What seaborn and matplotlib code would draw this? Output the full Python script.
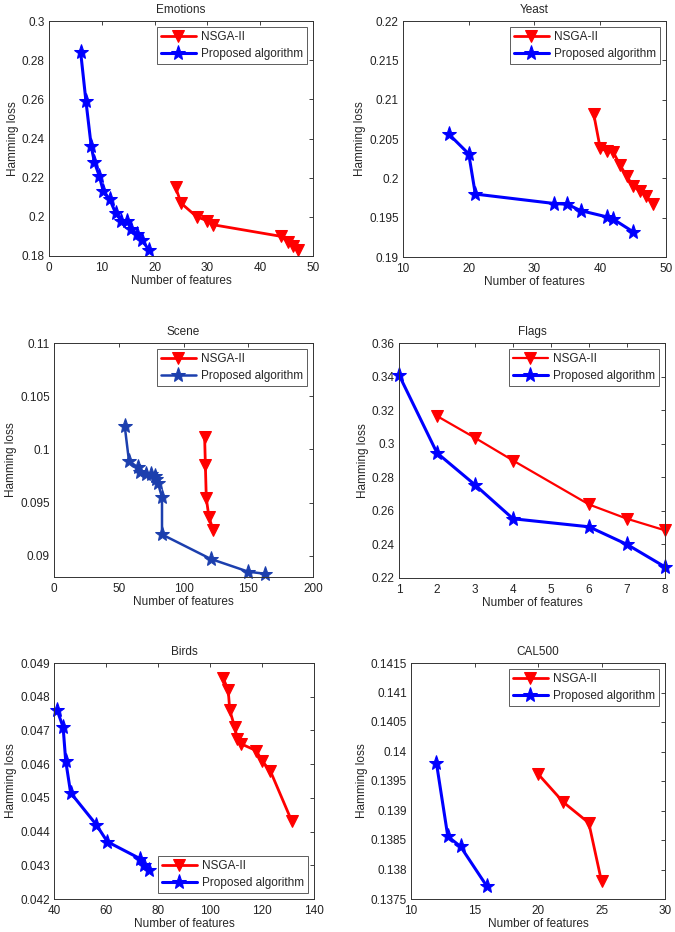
import pandas as pd
import seaborn as sns
import matplotlib.pyplot as plt
import numpy as np

# ---- data ----
emo_prop_x = [6, 7, 8, 8.6, 9.5, 10.3, 11.5, 12.6, 13.7, 14.7, 15.5, 16.6, 17.7, 18.9]
emo_prop_y = [0.284, 0.259, 0.236, 0.228, 0.221, 0.213, 0.209, 0.202, 0.198, 0.198, 0.194, 0.191, 0.188, 0.183]
emo_nsga_x = [24, 25, 28, 30, 31, 44, 45.3, 46.2, 47.2]
emo_nsga_y = [0.215, 0.207, 0.200, 0.198, 0.196, 0.190, 0.187, 0.185, 0.183]

yeast_prop_x = [17, 20, 21, 33, 35, 37, 41, 42, 45]
yeast_prop_y = [0.2056, 0.2031, 0.1980, 0.1968, 0.1967, 0.1959, 0.1951, 0.1948, 0.1932]
yeast_nsga_x = [39, 40, 41, 42, 43, 44, 45, 46, 47, 48]
yeast_nsga_y = [0.2082, 0.2038, 0.2035, 0.2033, 0.2017, 0.2003, 0.1990, 0.1984, 0.1977, 0.1968]

scene_prop_x = [54.6, 57.9, 64.9, 66.2, 70.8, 75.2, 77.7, 79, 80.3, 83.4, 83.4, 121, 150, 163]
scene_prop_y = [0.1022, 0.0989, 0.0983, 0.0979, 0.0977, 0.0977, 0.0975, 0.0972, 0.0968, 0.0955, 0.0920, 0.0897, 0.0885, 0.0883]
scene_nsga_x = [116.3, 116.9, 117.6, 119.7, 123]
scene_nsga_y = [0.1012, 0.0985, 0.0954, 0.0936, 0.0924]

flags_prop_x = [1, 2, 3, 4, 6, 7, 8]
flags_prop_y = [0.341, 0.2945, 0.2755, 0.2553, 0.2505, 0.2400, 0.2266]
flags_nsga_x = [2, 3, 4, 6, 7, 8]
flags_nsga_y = [0.3165, 0.3035, 0.2900, 0.2638, 0.2553, 0.2484]

birds_prop_x = [41.2, 43.5, 44.5, 46.4, 56.3, 60.5, 73, 74.5, 76.5]
birds_prop_y = [0.0476, 0.0471, 0.0461, 0.04515, 0.0442, 0.0437, 0.0432, 0.0430, 0.04285]
birds_nsga_x = [105, 107, 107.6, 109.5, 110.5, 112, 117.8, 120, 123.2, 131.5]
birds_nsga_y = [0.04856, 0.0482, 0.0476, 0.0471, 0.04675, 0.0466, 0.0464, 0.0461, 0.0458, 0.0443]

cal_prop_x = [12, 12.9, 13.9, 15.96]
cal_prop_y = [0.13981, 0.13856, 0.13839, 0.13772]
cal_nsga_x = [20, 22, 24, 25]
cal_nsga_y = [0.13962, 0.13914, 0.13879, 0.13780]

sns.set_style("white")
plt.rcParams['font.family'] = ['Liberation Sans', 'DejaVu Sans']
plt.rcParams['xtick.direction'] = 'in'
plt.rcParams['ytick.direction'] = 'in'
plt.rcParams['xtick.top'] = True
plt.rcParams['ytick.right'] = True
plt.rcParams['xtick.major.size'] = 3
plt.rcParams['ytick.major.size'] = 3

FS = 8.5

fig = plt.figure(figsize=(6.75, 9.32), dpi=100)
W, H = 675.0, 932.0


def box(l, t, r, b):
    return [l / W, 1 - b / H, (r - l) / W, (b - t) / H]


panels = [
    dict(title='Emotions', pos=box(49, 21, 313, 256),
         prop=(emo_prop_x, emo_prop_y), nsga=(emo_nsga_x, emo_nsga_y),
         xlim=(0, 50), xt=np.arange(0, 51, 10), ylim=(0.18, 0.3),
         yt=[0.18, 0.2, 0.22, 0.24, 0.26, 0.28, 0.3],
         yl=['0.18', '0.2', '0.22', '0.24', '0.26', '0.28', '0.3'],
         loc='upper right', blue='#0000ff', lw=(2, 2.2)),
    dict(title='Yeast', pos=box(403, 21, 666, 257),
         prop=(yeast_prop_x, yeast_prop_y), nsga=(yeast_nsga_x, yeast_nsga_y),
         xlim=(10, 50), xt=np.arange(10, 51, 10), ylim=(0.19, 0.22),
         yt=[0.19, 0.195, 0.2, 0.205, 0.21, 0.215, 0.22],
         yl=['0.19', '0.195', '0.2', '0.205', '0.21', '0.215', '0.22'],
         loc='upper right', blue='#0000ff', lw=(2, 2.2)),
    dict(title='Scene', pos=box(54, 343, 313, 577),
         prop=(scene_prop_x, scene_prop_y), nsga=(scene_nsga_x, scene_nsga_y),
         xlim=(0, 200), xt=np.arange(0, 201, 50), ylim=(0.088, 0.11),
         yt=[0.09, 0.095, 0.1, 0.105, 0.11],
         yl=['0.09', '0.095', '0.1', '0.105', '0.11'],
         loc='upper right', blue='#1c3fae', lw=(2, 1.8)),
    dict(title='Flags', pos=box(399, 343, 665, 578),
         prop=(flags_prop_x, flags_prop_y), nsga=(flags_nsga_x, flags_nsga_y),
         xlim=(1, 8), xt=np.arange(1, 9), ylim=(0.22, 0.36),
         yt=[0.22, 0.24, 0.26, 0.28, 0.3, 0.32, 0.34, 0.36],
         yl=['0.22', '0.24', '0.26', '0.28', '0.3', '0.32', '0.34', '0.36'],
         loc='upper right', blue='#0000ff', lw=(1.6, 2.2)),
    dict(title='Birds', pos=box(54, 663, 314, 899),
         prop=(birds_prop_x, birds_prop_y), nsga=(birds_nsga_x, birds_nsga_y),
         xlim=(40, 140), xt=np.arange(40, 141, 20), ylim=(0.042, 0.049),
         yt=[0.042, 0.043, 0.044, 0.045, 0.046, 0.047, 0.048, 0.049],
         yl=['0.042', '0.043', '0.044', '0.045', '0.046', '0.047', '0.048', '0.049'],
         loc='lower right', blue='#0000ff', lw=(2, 2.2)),
    dict(title='CAL500', pos=box(411, 663, 665, 899),
         prop=(cal_prop_x, cal_prop_y), nsga=(cal_nsga_x, cal_nsga_y),
         xlim=(10, 30), xt=np.arange(10, 31, 5), ylim=(0.1375, 0.1415),
         yt=[0.1375, 0.138, 0.1385, 0.139, 0.1395, 0.14, 0.1405, 0.141, 0.1415],
         yl=['0.1375', '0.138', '0.1385', '0.139', '0.1395', '0.14', '0.1405', '0.141', '0.1415'],
         loc='upper right', blue='#0000ff', lw=(2, 2.2)),
]

for p in panels:
    ax = fig.add_axes(p['pos'])
    d_n = pd.DataFrame({'x': p['nsga'][0], 'y': p['nsga'][1]})
    d_p = pd.DataFrame({'x': p['prop'][0], 'y': p['prop'][1]})
    sns.lineplot(data=d_n, x='x', y='y', ax=ax, sort=False, estimator=None,
                 color='#ff0000', marker='v', markersize=9,
                 markeredgecolor='#ff0000', linewidth=p['lw'][0],
                 label='NSGA-II', clip_on=False)
    sns.lineplot(data=d_p, x='x', y='y', ax=ax, sort=False, estimator=None,
                 color=p['blue'], marker='*', markersize=11,
                 markeredgecolor=p['blue'], linewidth=p['lw'][1],
                 label='Proposed algorithm', clip_on=False)
    ax.set_xlim(p['xlim'])
    ax.set_ylim(p['ylim'])
    ax.set_xticks(p['xt'])
    ax.set_yticks(p['yt'])
    ax.set_yticklabels(p['yl'])
    ax.tick_params(labelsize=FS, colors='#222222', width=0.6)
    ax.tick_params(axis='x', pad=4)
    ax.tick_params(axis='y', pad=3)
    for s in ax.spines.values():
        s.set_color('#333333')
        s.set_linewidth(0.7)
    ax.set_title(p['title'], fontsize=FS, pad=6)
    ax.set_xlabel('Number of features', fontsize=FS, labelpad=1)
    ax.set_ylabel('Hamming loss', fontsize=FS, labelpad=2)
    leg = ax.legend(loc=p['loc'], fontsize=FS, frameon=True, fancybox=False,
                    handlelength=3.0, borderpad=0.35, labelspacing=0.4,
                    handletextpad=0.4, borderaxespad=0.5)
    leg.get_frame().set_edgecolor('#333333')
    leg.get_frame().set_linewidth(0.7)

plt.savefig('out.png', dpi=100)
